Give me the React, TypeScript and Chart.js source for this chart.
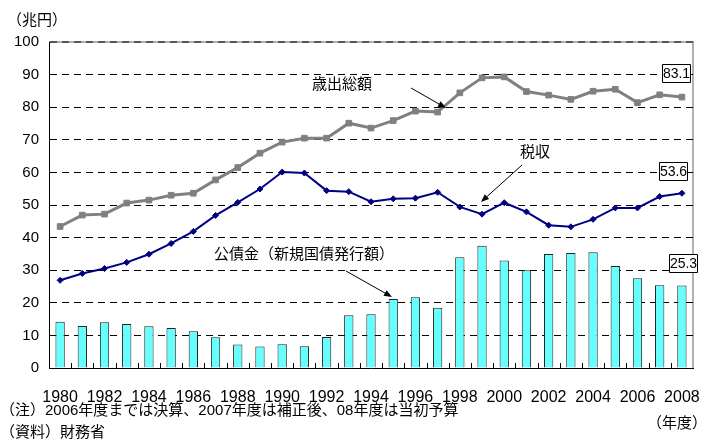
import React, { useEffect, useRef } from 'react';
import { Chart, registerables } from 'chart.js';

Chart.register(...registerables);

const years = [
  '1980', '1981', '1982', '1983', '1984', '1985', '1986', '1987', '1988', '1989',
  '1990', '1991', '1992', '1993', '1994', '1995', '1996', '1997', '1998', '1999',
  '2000', '2001', '2002', '2003', '2004', '2005', '2006', '2007', '2008',
];

// 歳出総額 (兆円)
const expenditure = [
  43.4, 46.9, 47.2, 50.6, 51.5, 53.0, 53.6, 57.7, 61.5, 65.9,
  69.3, 70.5, 70.5, 75.1, 73.6, 75.9, 78.8, 78.5, 84.4, 89.0,
  89.3, 84.8, 83.7, 82.4, 84.9, 85.5, 81.4, 83.8, 83.1,
];

// 税収 (兆円)
const taxRevenue = [
  26.9, 29.0, 30.5, 32.4, 34.9, 38.2, 41.9, 46.8, 50.8, 54.9,
  60.1, 59.8, 54.4, 54.1, 51.0, 51.9, 52.1, 53.9, 49.4, 47.2,
  50.7, 47.9, 43.8, 43.3, 45.6, 49.1, 49.1, 52.6, 53.6,
];

// 公債金（新規国債発行額） (兆円)
const bonds = [
  14.2, 12.9, 14.0, 13.5, 12.8, 12.3, 11.3, 9.4, 7.2, 6.6,
  7.3, 6.7, 9.5, 16.2, 16.5, 21.2, 21.7, 18.5, 34.0, 37.5,
  33.0, 30.0, 35.0, 35.3, 35.5, 31.3, 27.5, 25.4, 25.3,
];

const yMin = 0;
const yMax = 100;
const yStep = 10;

const lastLabels = ['83.1', '53.6', '25.3'];

const unitLabel = '（兆円）';
const xUnitLabel = '（年度）';
const expLabel = '歳出総額';
const taxLabel = '税収';
const bondLabel = '公債金（新規国債発行額）';
const note1 = '（注）2006年度までは決算、2007年度は補正後、08年度は当初予算';
const note2 = '（資料）財務省';

const FONT = '"Liberation Sans", "Noto Sans CJK JP", sans-serif';

function drawArrow(ctx: CanvasRenderingContext2D, x1: number, y1: number, x2: number, y2: number) {
  const ang = Math.atan2(y2 - y1, x2 - x1);
  const hl = 8;
  const hw = 3.2;
  ctx.save();
  ctx.setLineDash([]);
  ctx.strokeStyle = '#000';
  ctx.fillStyle = '#000';
  ctx.lineWidth = 1;
  ctx.beginPath();
  ctx.moveTo(x1, y1);
  ctx.lineTo(x2 - Math.cos(ang) * hl * 0.8, y2 - Math.sin(ang) * hl * 0.8);
  ctx.stroke();
  ctx.beginPath();
  ctx.moveTo(x2, y2);
  ctx.lineTo(x2 - Math.cos(ang) * hl - Math.sin(ang) * hw, y2 - Math.sin(ang) * hl + Math.cos(ang) * hw);
  ctx.lineTo(x2 - Math.cos(ang) * hl + Math.sin(ang) * hw, y2 - Math.sin(ang) * hl - Math.cos(ang) * hw);
  ctx.closePath();
  ctx.fill();
  ctx.restore();
}

function drawBox(ctx: CanvasRenderingContext2D, text: string, cx: number, cy: number) {
  const w = 28;
  const h = 18;
  const x0 = Math.round(cx - w / 2) + 0.5;
  const y0 = Math.round(cy - h / 2) + 0.5;
  ctx.save();
  ctx.setLineDash([]);
  ctx.beginPath();
  ctx.rect(x0, y0, w, h);
  ctx.fillStyle = '#ffffff';
  ctx.fill();
  ctx.lineWidth = 1;
  ctx.strokeStyle = '#000000';
  ctx.stroke();
  ctx.font = `14px ${FONT}`;
  ctx.fillStyle = '#000';
  ctx.textAlign = 'center';
  ctx.textBaseline = 'middle';
  ctx.fillText(text, x0 + w / 2, y0 + h / 2 + 1);
  ctx.restore();
}

const framePlugin = {
  id: 'frame',
  beforeDraw(chart: any) {
    const { ctx, chartArea } = chart;
    ctx.save();
    ctx.strokeStyle = '#b0b0b0';
    ctx.lineWidth = 2;
    ctx.beginPath();
    ctx.moveTo(chartArea.left, chartArea.top);
    ctx.lineTo(chartArea.right, chartArea.top);
    ctx.lineTo(chartArea.right, chartArea.bottom);
    ctx.stroke();
    ctx.restore();
  },
  beforeDatasetsDraw(chart: any) {
    const { ctx, chartArea } = chart;
    const xs = chart.scales.x;
    ctx.save();
    ctx.strokeStyle = '#000';
    ctx.lineWidth = 1;
    for (let i = 0; i < years.length - 1; i++) {
      const x = Math.round((xs.getPixelForValue(i) + xs.getPixelForValue(i + 1)) / 2) + 0.5;
      ctx.beginPath();
      ctx.moveTo(x, chartArea.bottom);
      ctx.lineTo(x, chartArea.bottom - 5);
      ctx.stroke();
    }
    ctx.restore();
  },
};

const annotationPlugin = {
  id: 'annotations',
  afterDraw(chart: any) {
    const { ctx } = chart;
    const xs = chart.scales.x;
    const ys = chart.scales.y;
    const last = years.length - 1;
    const lx = xs.getPixelForValue(last);

    ctx.save();
    ctx.fillStyle = '#000';
    ctx.textBaseline = 'middle';
    ctx.textAlign = 'left';

    ctx.font = `15px ${FONT}`;
    ctx.fillText(unitLabel, 7, 21);
    ctx.fillText(expLabel, 312, 85);
    ctx.fillText(taxLabel, 520, 153);
    ctx.fillText(bondLabel, 214, 255);
    ctx.fillText(note1, 0, 411);
    ctx.fillText(note2, 0, 433);
    ctx.textAlign = 'right';
    ctx.fillText(xUnitLabel, 707, 424);
    ctx.restore();

    drawArrow(ctx, 411, 88, 446, 108);
    drawArrow(ctx, 522, 165, 481, 202);
    drawArrow(ctx, 346, 271, 392, 297);

    drawBox(ctx, lastLabels[0], lx - 6, ys.getPixelForValue(expenditure[last]) - 24);
    drawBox(ctx, lastLabels[1], lx - 9, ys.getPixelForValue(taxRevenue[last]) - 22);
    drawBox(ctx, lastLabels[2], lx + 1, ys.getPixelForValue(bonds[last]) - 23);
  },
};

export default function App() {
  const ref = useRef<HTMLCanvasElement | null>(null);

  useEffect(() => {
    if (!ref.current) return;
    const chart = new Chart(ref.current, {
      data: {
        labels: years,
        datasets: [
          {
            type: 'line',
            label: taxLabel,
            data: taxRevenue,
            borderColor: '#000080',
            backgroundColor: '#000080',
            borderWidth: 2,
            pointStyle: 'rectRot',
            pointRadius: 3,
            pointBorderWidth: 1,
            tension: 0,
            order: 0,
          },
          {
            type: 'line',
            label: expLabel,
            data: expenditure,
            borderColor: '#808080',
            backgroundColor: '#808080',
            borderWidth: 3,
            pointStyle: 'rect',
            pointRadius: 4,
            pointBorderWidth: 1,
            tension: 0,
            order: 1,
          },
          {
            type: 'bar',
            label: bondLabel,
            data: bonds,
            backgroundColor: '#66FFFF',
            borderColor: '#222',
            borderWidth: 1,
            barPercentage: 0.42,
            categoryPercentage: 1,
            order: 2,
          },
        ],
      } as any,
      options: {
        responsive: false,
        animation: false,
        devicePixelRatio: 1,
        layout: { padding: { top: 42, right: 9, left: 0, bottom: 0 } },
        plugins: {
          legend: { display: false },
          tooltip: { enabled: false },
        },
        scales: {
          x: {
            type: 'category',
            offset: true,
            grid: { display: false },
            border: { display: true, color: '#000', width: 1 },
            ticks: {
              autoSkip: false,
              maxRotation: 0,
              minRotation: 0,
              padding: 12,
              color: '#000',
              font: { family: FONT, size: 16 },
              callback: (_v: any, i: number) => (i % 2 === 0 ? years[i] : ''),
            },
            afterFit: (scale: any) => {
              scale.height = 74;
              scale.paddingLeft = 0;
              scale.paddingRight = 0;
            },
          },
          y: {
            min: yMin,
            max: yMax,
            grid: {
              drawTicks: false,
              color: (c: any) =>
                c.tick && c.tick.value === yMin ? 'rgba(0,0,0,0)' : c.tick && c.tick.value === yMax ? '#555' : '#000',
              lineWidth: (c: any) => (c.tick && c.tick.value === yMax ? 2 : 1),
            },
            border: { display: true, color: '#000', width: 1, dash: [7, 5] },
            ticks: {
              stepSize: yStep,
              padding: 10,
              color: '#000',
              font: { family: FONT, size: 15 },
            },
            afterFit: (scale: any) => {
              scale.width = 49;
              scale.paddingTop = 0;
              scale.paddingBottom = 0;
            },
          },
        },
      } as any,
      plugins: [framePlugin, annotationPlugin],
    });
    return () => chart.destroy();
  }, []);

  return (
    <div style={{ position: 'absolute', left: 0, top: 0, width: 702, height: 442, overflow: 'hidden', background: '#fff' }}>
      <canvas ref={ref} width={702} height={442} style={{ display: 'block', width: 702, height: 442 }} />
    </div>
  );
}
